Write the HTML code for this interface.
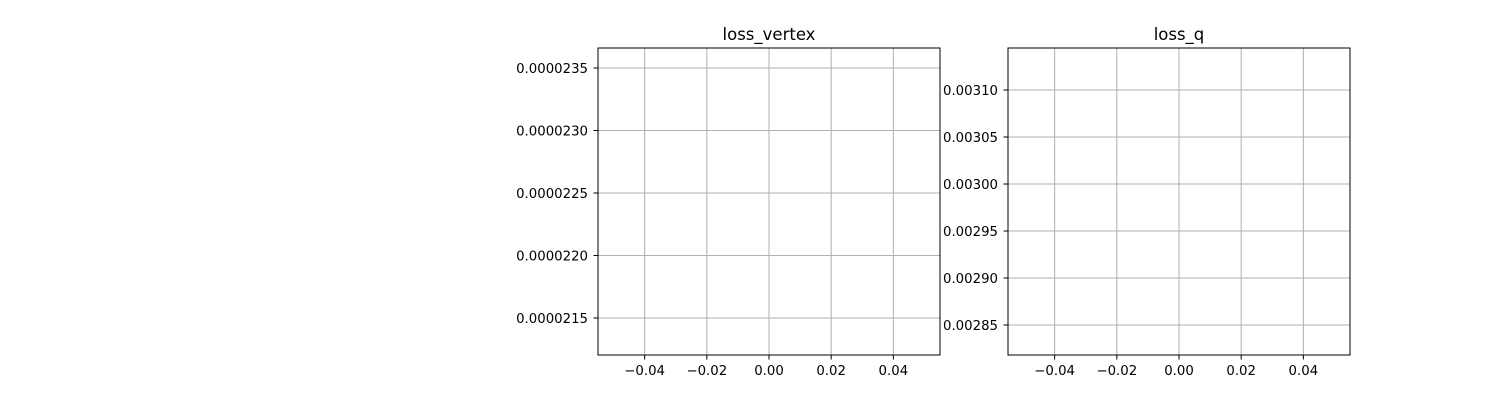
<!DOCTYPE html>
<html><head><meta charset="utf-8">
<style>
html,body{margin:0;padding:0;background:#fff;}
svg{display:block;font-family:"DejaVu Sans","Liberation Sans",sans-serif;}
</style></head>
<body>
<svg id="fig" width="1500" height="400" viewBox="0 0 1500 400"></svg>
<script>
const xTicks = [-0.04, -0.02, 0.00, 0.02, 0.04];
const xTickLabels = ["\u22120.04", "\u22120.02", "0.00", "0.02", "0.04"];
const vertexTicks = [0.0000215, 0.0000220, 0.0000225, 0.0000230, 0.0000235];
const vertexTickLabels = ["0.0000215", "0.0000220", "0.0000225", "0.0000230", "0.0000235"];
const qTicks = [0.00285, 0.00290, 0.00295, 0.00300, 0.00305, 0.00310];
const qTickLabels = ["0.00285", "0.00290", "0.00295", "0.00300", "0.00305", "0.00310"];
const vertexValues = [];
const qValues = [];

const NS = "http://www.w3.org/2000/svg";
const svg = document.getElementById('fig');
function mk(tag, attrs, parent){
  const e = document.createElementNS(NS, tag);
  for (const k in attrs) e.setAttribute(k, attrs[k]);
  (parent||svg).appendChild(e);
  return e;
}
function panel(name, title, left, right, top, bottom, xmin, xmax, ymin, ymax, yt, ytl){
  const g = mk('g', {});
  
  
  const sx = v => left + (v - xmin) / (xmax - xmin) * (right - left);
  const sy = v => bottom - (v - ymin) / (ymax - ymin) * (bottom - top);
  xTicks.forEach((t, i) => {
    const x = sx(t);
    const gl = mk('line', {x1:x, x2:x, y1:top, y2:bottom, stroke:'#b0b0b0', 'stroke-width':1}, g);
    
    
    mk('line', {x1:x, x2:x, y1:bottom, y2:bottom+4.5, stroke:'#000', 'stroke-width':1}, g);
    const tx = mk('text', {x:x, y:bottom+20, 'font-size':13.3, 'text-anchor':'middle', fill:'#000'}, g);
    tx.textContent = xTickLabels[i];
    
    
  });
  yt.forEach((t, i) => {
    const y = sy(t);
    const gl = mk('line', {x1:left, x2:right, y1:y, y2:y, stroke:'#b0b0b0', 'stroke-width':1}, g);
    
    
    mk('line', {x1:left-4.5, x2:left, y1:y, y2:y, stroke:'#000', 'stroke-width':1}, g);
    const tx = mk('text', {x:left-10, y:y+5, 'font-size':13.3, 'text-anchor':'end', fill:'#000'}, g);
    tx.textContent = ytl[i];
    
    
  });
  const fr = mk('rect', {x:left, y:top, width:right-left, height:bottom-top, fill:'none', stroke:'#000', 'stroke-width':1}, g);
  
  
  const ti = mk('text', {x:(left+right)/2, y:top-8, 'font-size':16.5, 'text-anchor':'middle', fill:'#000'}, g);
  ti.textContent = title;
  
  
}
panel('loss-vertex', 'loss_vertex', 598, 940, 48, 355, -0.055, 0.055, 0.000021204, 0.00002366, vertexTicks, vertexTickLabels);
panel('loss-q', 'loss_q', 1008, 1350, 48, 355, -0.055, 0.055, 0.0028181, 0.0031447, qTicks, qTickLabels);
</script>
</body></html>
